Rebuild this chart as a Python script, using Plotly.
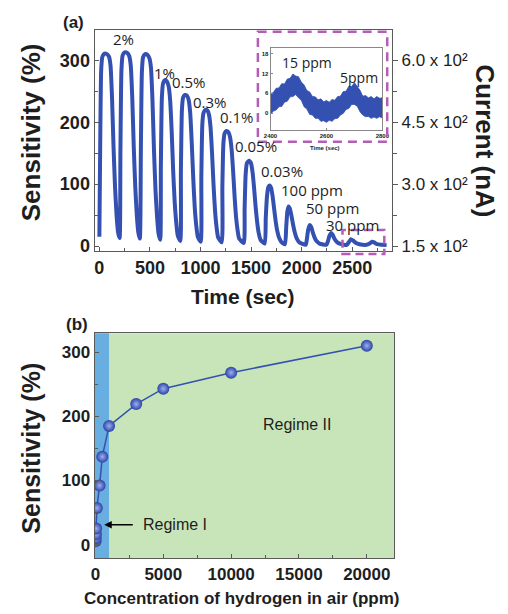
import plotly.graph_objects as go

W, H = 508, 614

# ---------------- data ----------------
# (a) main response curve: time (s) vs sensitivity (%)
time_s = [0, 8, 18, 30, 50, 75, 95, 110, 125, 140, 155, 170, 185, 200,
          208, 218, 230, 250, 275, 295, 310, 325, 340, 355, 370, 385, 400,
          410, 420, 432, 452, 475, 495, 510, 525, 540, 555, 570, 585, 602,
          608, 618, 630, 648, 668, 685, 700, 715, 730, 745, 760, 775, 800,
          806, 816, 828, 846, 866, 883, 898, 913, 928, 943, 958, 973, 1002,
          1008, 1018, 1030, 1048, 1068, 1084, 1099, 1114, 1129, 1144, 1159, 1174, 1210,
          1216, 1226, 1238, 1256, 1276, 1292, 1307, 1322, 1337, 1352, 1367, 1382, 1428,
          1436, 1446, 1459, 1479, 1499, 1514, 1529, 1544, 1559, 1574, 1594, 1635,
          1645, 1657, 1670, 1683, 1698, 1713, 1728, 1743, 1758, 1778, 1803, 1835,
          1847, 1858, 1870, 1884, 1900, 1917, 1932, 1952, 1977, 2040,
          2052, 2064, 2080, 2094, 2110, 2127, 2147, 2177, 2245,
          2260, 2274, 2292, 2307, 2327, 2352, 2392, 2445,
          2465, 2486, 2507, 2537, 2572, 2640,
          2672, 2696, 2716, 2746, 2791, 2840]
sens = [15, 160, 285, 306, 311, 310, 306, 292, 240, 160, 95, 50, 22, 13,
        150, 283, 308, 313, 312, 307, 292, 240, 160, 95, 50, 22, 12,
        150, 280, 305, 310, 309, 303, 288, 235, 155, 90, 48, 20, 10,
        130, 240, 263, 268, 266, 258, 235, 185, 120, 70, 38, 17, 8,
        120, 220, 240, 244, 243, 236, 215, 168, 110, 62, 33, 15, 7,
        110, 197, 215, 220, 219, 212, 192, 150, 98, 56, 30, 14, 6,
        95, 165, 182, 186, 184, 176, 157, 122, 80, 46, 25, 12, 5,
        60, 115, 134, 138, 134, 120, 95, 65, 40, 22, 10, 4,
        45, 80, 95, 98, 94, 80, 60, 40, 25, 13, 6, 3,
        30, 55, 64, 60, 48, 33, 22, 12, 6, 2,
        12, 26, 34, 31, 22, 14, 8, 4, 2,
        8, 16, 21, 18, 11, 6, 3, 2,
        6, 11, 9, 5, 3, 2,
        4, 7, 6, 3, 2, 1.5]

conc_labels = ["2%", "1%", "0.5%", "0.3%", "0.1%", "0.05%", "0.03%",
               "100 ppm", "50 ppm", "30 ppm"]
conc_label_t = [240, 642, 885, 1096, 1356, 1545, 1808, 2106, 2308, 2500]
conc_label_s = [334, 280, 265, 233, 209, 162, 122, 91, 62, 34]

time_ticks = [0, 500, 1000, 1500, 2000, 2500]
sens_ticks = [0, 100, 200, 300]
current_ticks = [150, 300, 450, 600]
current_ticktext = ["1.5 x 10²", "3.0 x 10²", "4.5 x 10²", "6.0 x 10²"]

# inset: noisy band (upper / lower envelope) 2400-2800 s
inset_t = [2400, 2410, 2420, 2430, 2440, 2450, 2460, 2470, 2480, 2490,
           2500, 2510, 2520, 2530, 2540, 2550, 2560, 2570, 2580, 2590,
           2600, 2610, 2620, 2630, 2640, 2650, 2660, 2670, 2680, 2690,
           2700, 2710, 2720, 2730, 2740, 2750, 2760, 2770, 2780, 2790, 2800]
inset_upper = [5.9, 6.2, 7.5, 7.6, 8.9, 8.8, 10.3, 10.5, 11.8, 11.2,
               11.0, 9.4, 8.5, 6.8, 6.4, 5.0, 4.9, 4.0, 4.3, 3.4,
               3.8, 3.3, 4.1, 3.9, 5.0, 5.1, 6.5, 6.6, 8.1, 8.0,
               9.2, 7.9, 6.9, 5.1, 5.3, 4.6, 5.0, 4.3, 5.0, 4.5, 4.6]
inset_lower = [-0.4, 0.6, 0.9, 1.9, 2.0, 3.3, 3.6, 4.9, 5.0, 5.6,
               4.6, 3.9, 1.9, 1.2, -0.4, -0.6, -1.6, -1.6, -2.5, -2.3,
               -2.8, -2.2, -2.5, -1.7, -1.6, -0.6, -0.1, 1.1, 1.4, 2.6,
               2.6, 2.1, 0.4, -0.6, -1.1, -1.0, -1.6, -1.2, -1.6, -1.1, -1.5]
inset_xticks = [2400, 2600, 2800]
inset_yticks = [0, 6, 12, 18]

# (b) sensitivity vs hydrogen concentration
conc_ppm = [5, 15, 30, 50, 100, 300, 500, 1000, 3000, 5000, 10000, 20000]
sens_b = [5, 10, 16, 25, 57, 92, 137, 185, 219, 243, 268, 310]
regime_boundary = 1000
conc_ticks = [0, 5000, 10000, 15000, 20000]
conc_ticktext = ["0", "5000", "10000", "15000", "20000"]

# ---------------- helpers ----------------
def pxx(x):
    return x / W

def pxy(y):
    return 1 - y / H

BLUE = "#3451b2"
FRAME = "#5a5a5a"
TXT = "#1e1e1e"
MAG = "#b45db4"
FAM = "Liberation Sans, Arial, sans-serif"
bold_tick = dict(family=FAM, size=18, color=TXT, weight="bold")

fig = go.Figure()

fig.add_trace(go.Scatter(x=time_s, y=sens, mode="lines", xaxis="x", yaxis="y",
                         line=dict(color=BLUE, width=4, shape="spline", smoothing=0.5),
                         hoverinfo="skip", showlegend=False))
fig.add_trace(go.Scatter(x=[], y=[], xaxis="x", yaxis="y2", mode="lines", showlegend=False))

fig.add_trace(go.Scatter(x=inset_t, y=inset_lower, mode="lines", xaxis="x3", yaxis="y3",
                         line=dict(color=BLUE, width=0.8), showlegend=False))
fig.add_trace(go.Scatter(x=inset_t, y=inset_upper, mode="lines", xaxis="x3", yaxis="y3",
                         line=dict(color=BLUE, width=0.8), fill="tonexty",
                         fillcolor=BLUE, showlegend=False))

fig.add_trace(go.Scatter(x=conc_ppm, y=sens_b, mode="lines+markers", xaxis="x4", yaxis="y4",
                         line=dict(color=BLUE, width=1.5),
                         marker=dict(size=12, color="#2c43a6",
                                     gradient=dict(type="radial", color="#9cb0f0"),
                                     line=dict(width=0)),
                         showlegend=False))

axis_common = dict(showline=True, linecolor=FRAME, linewidth=1, mirror=True,
                   showgrid=False, zeroline=False, ticks="inside", tickcolor=FRAME,
                   ticklen=4)

fig.update_layout(
    width=W, height=H, margin=dict(l=0, r=0, t=0, b=0),
    paper_bgcolor="white", plot_bgcolor="rgba(0,0,0,0)",
    font=dict(family=FAM, color=TXT),
    xaxis=dict(domain=[pxx(90), pxx(396)], anchor="y", range=[-48, 2894],
               tickvals=time_ticks, tickfont=bold_tick,
               minor=dict(dtick=250, tick0=0, ticks="inside", ticklen=3, tickcolor=FRAME),
               **axis_common),
    yaxis=dict(domain=[pxy(253), pxy(30)], anchor="x", range=[-7.9, 349.4],
               tickvals=sens_ticks, tickfont=bold_tick,
               minor=dict(dtick=50, tick0=0, ticks="inside", ticklen=3, tickcolor=FRAME),
               **axis_common),
    yaxis2=dict(overlaying="y", side="right", anchor="x", range=[138.15, 674.1],
                tickvals=current_ticks, ticktext=current_ticktext,
                tickfont=dict(family=FAM, size=17, color=TXT),
                ticks="outside", ticklen=5, tickcolor=FRAME,
                minor=dict(dtick=75, tick0=0, ticks="outside", ticklen=4, tickcolor=FRAME),
                showline=False, showgrid=False, zeroline=False),
    xaxis3=dict(domain=[pxx(271), pxx(386)], anchor="y3", range=[2400, 2800],
                tickvals=inset_xticks,
                tickfont=dict(size=6, color=TXT, weight="bold"),
                showline=True, linecolor="#888", mirror=True, showgrid=False, zeroline=False,
                ticks="inside", ticklen=2, tickcolor="#888"),
    yaxis3=dict(domain=[pxy(131), pxy(48)], anchor="x3", range=[-5.1, 19.8],
                tickvals=inset_yticks,
                tickfont=dict(size=6, color=TXT, weight="bold"),
                showline=True, linecolor="#888", mirror=True, showgrid=False, zeroline=False,
                ticks="inside", ticklen=2, tickcolor="#888"),
    xaxis4=dict(domain=[pxx(90), pxx(398)], anchor="y4", range=[-72, 22007],
                tickvals=conc_ticks, ticktext=conc_ticktext,
                tickfont=dict(family=FAM, size=17, color=TXT, weight="bold"),
                minor=dict(dtick=2500, tick0=0, ticks="inside", ticklen=3, tickcolor=FRAME),
                **axis_common),
    yaxis4=dict(domain=[pxy(563), pxy(336)], anchor="x4", range=[-21.6, 329.4],
                tickvals=sens_ticks,
                tickfont=dict(family=FAM, size=17, color=TXT, weight="bold"),
                minor=dict(dtick=50, tick0=0, ticks="inside", ticklen=3, tickcolor=FRAME),
                **axis_common),
)

shapes = [
    dict(type="rect", xref="paper", yref="paper", x0=pxx(271), x1=pxx(386), y0=pxy(131), y1=pxy(48),
         fillcolor="white", line=dict(width=0), layer="below"),
    dict(type="rect", xref="x4 domain", yref="y4 domain", x0=0, x1=1, y0=0, y1=1,
         fillcolor="#c8e5b9", line=dict(width=0), layer="below"),
    dict(type="rect", xref="x4", yref="y4 domain", x0=-72, x1=regime_boundary, y0=0, y1=1,
         fillcolor="#68aee0", line=dict(width=0), layer="below"),
    dict(type="rect", xref="paper", yref="paper", x0=pxx(258), x1=pxx(391), y0=pxy(143), y1=pxy(32),
         line=dict(color=MAG, width=2.5, dash="9px,6px"), fillcolor="rgba(0,0,0,0)", layer="above"),
    dict(type="rect", xref="paper", yref="paper", x0=pxx(345), x1=pxx(388), y0=pxy(256), y1=pxy(232),
         line=dict(color=MAG, width=2.5, dash="8px,5px"), fillcolor="rgba(0,0,0,0)", layer="above"),
]
fig.update_layout(shapes=shapes)

C = dict(xanchor="center", yanchor="middle", showarrow=False)
ann = []
lab_font = dict(family="Open Sans, sans-serif", size=15, color=TXT)
for txt, t, s in zip(conc_labels, conc_label_t, conc_label_s):
    ann.append(dict(x=t, y=s, xref="x", yref="y", text=txt, font=lab_font, **C))

ann += [
    dict(x=pxx(308), y=pxy(63), xref="paper", yref="paper", text="15 ppm",
         font=dict(family="Open Sans, sans-serif", size=14, color=TXT), **C),
    dict(x=pxx(362), y=pxy(78), xref="paper", yref="paper", text="5ppm",
         font=dict(family="Open Sans, sans-serif", size=14, color=TXT), **C),
    dict(x=pxx(327), y=pxy(149), xref="paper", yref="paper", text="Time (sec)",
         font=dict(size=6, color=TXT, weight="bold"), **C),
    dict(x=pxx(68), y=pxy(23), xref="paper", yref="paper", text="(a)",
         font=dict(size=17, color=TXT, weight="bold"), **C),
    dict(x=pxx(72), y=pxy(327), xref="paper", yref="paper", text="(b)",
         font=dict(size=17, color=TXT, weight="bold"), **C),
    dict(x=pxx(25), y=pxy(133), xref="paper", yref="paper", text="Sensitivity (%)", textangle=-90,
         font=dict(size=26, color=TXT, weight="bold"), **C),
    dict(x=pxx(492), y=pxy(142), xref="paper", yref="paper", text="Current (nA)", textangle=90,
         font=dict(size=26, color=TXT, weight="bold"), **C),
    dict(x=pxx(243), y=pxy(299), xref="paper", yref="paper", text="Time (sec)",
         font=dict(size=21, color=TXT, weight="bold"), **C),
    dict(x=pxx(25), y=pxy(452), xref="paper", yref="paper", text="Sensitivity (%)", textangle=-90,
         font=dict(size=25, color=TXT, weight="bold"), **C),
    dict(x=pxx(241), y=pxy(603), xref="paper", yref="paper",
         text="Concentration of hydrogen in air (ppm)",
         font=dict(size=17, color=TXT, weight="bold"), **C),
    dict(x=645, y=31, xref="x4", yref="y4", ax=30, ay=0, text="", showarrow=True,
         arrowhead=2, arrowsize=1, arrowwidth=1.5, arrowcolor="black"),
    dict(x=3369, y=31, xref="x4", yref="y4", text="Regime I", xanchor="left", yanchor="middle",
         showarrow=False, font=dict(size=16, color=TXT)),
    dict(x=14839, y=187, xref="x4", yref="y4", text="Regime II",
         font=dict(size=16, color=TXT), **C),
]
fig.update_layout(annotations=ann)

fig.write_html("out.html", config={"displayModeBar": False},
               post_script="document.body.style.margin='0';document.body.style.padding='0';")
